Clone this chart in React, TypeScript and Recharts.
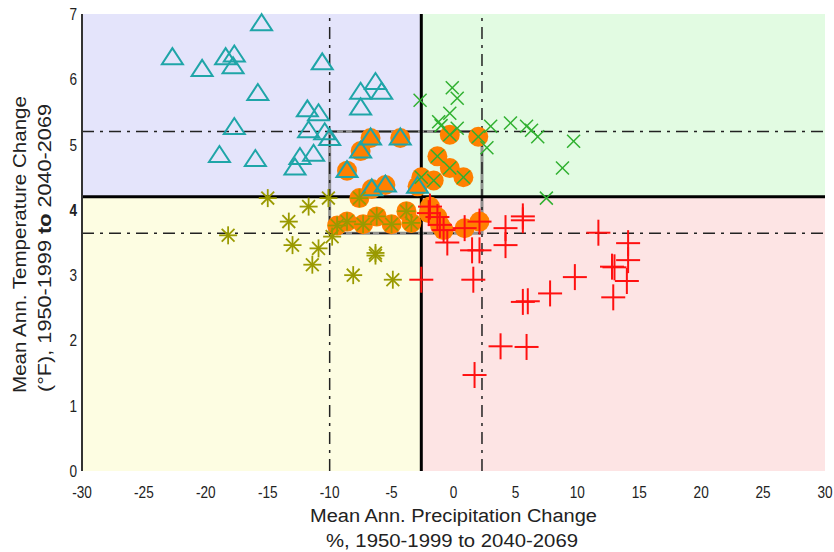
import React from 'react';
import { ScatterChart, Scatter, XAxis, YAxis, ReferenceArea, ReferenceLine } from 'recharts';

// value pairs: [precip % change, temp °F change]
const triangleOnly: [number, number][] = [
  [-15.5, 6.85], [-22.7, 6.33], [-20.3, 6.15], [-18.4, 6.33], [-17.7, 6.37], [-17.8, 6.19],
  [-10.6, 6.25], [-15.8, 5.78], [-11.8, 5.53], [-10.9, 5.47], [-17.7, 5.26], [-11.7, 5.21],
  [-10.4, 5.18], [-10.0, 5.09], [-11.3, 4.85], [-12.4, 4.8], [-18.9, 4.83], [-16.0, 4.77],
  [-12.8, 4.64], [-6.3, 5.95], [-7.5, 5.8], [-5.8, 5.8], [-7.5, 5.56],
];
const triangleSel: [number, number][] = [
  [-6.7, 5.1], [-4.3, 5.1], [-7.5, 4.9], [-8.6, 4.6], [-5.5, 4.38], [-6.6, 4.32], [-2.9, 4.36],
];
const asteriskOnly: [number, number][] = [
  [-15.0, 4.18], [-10.1, 4.18], [-11.7, 4.05], [-13.3, 3.82], [-18.2, 3.61], [-9.8, 3.59],
  [-13.0, 3.46], [-10.9, 3.41], [-11.4, 3.16], [-6.3, 3.34], [-6.3, 3.3], [-8.1, 3.0], [-4.9, 2.93],
];
const asteriskSel: [number, number][] = [
  [-9.4, 3.76], [-8.6, 3.82], [-7.3, 3.78], [-6.2, 3.9], [-5.0, 3.78], [-3.8, 3.98], [-3.4, 3.8], [-7.6, 4.18],
];
const crossOnly: [number, number][] = [
  [-0.1, 5.87], [0.3, 5.71], [-2.7, 5.68], [-0.3, 5.48], [-1.2, 5.35], [-1.0, 5.29], [0.3, 5.25],
  [3.0, 5.28], [4.6, 5.33], [5.9, 5.28], [6.3, 5.22], [6.8, 5.12], [9.7, 5.05], [8.8, 4.64],
  [7.5, 4.18], [2.7, 4.95],
];
const crossSel: [number, number][] = [
  [-0.3, 5.15], [2.0, 5.12], [-1.3, 4.82], [-0.3, 4.64], [0.8, 4.5], [-1.6, 4.45], [-2.6, 4.5],
];
const plusOnly: [number, number][] = [
  [-0.5, 3.5], [1.5, 3.38], [2.1, 3.38], [4.2, 3.72], [4.2, 3.46], [5.6, 3.9], [5.6, 3.84],
  [1.6, 2.93], [-2.6, 2.93], [5.6, 2.59], [6.0, 2.6], [7.8, 2.72], [9.8, 2.97], [11.7, 3.65],
  [12.8, 3.13], [13.0, 3.12], [12.9, 2.66], [14.1, 3.49], [14.1, 3.23], [14.0, 2.91],
  [3.8, 1.91], [5.9, 1.9], [1.7, 1.47],
];
const plusSel: [number, number][] = [
  [-1.9, 4.05], [-1.3, 3.89], [-1.1, 3.77], [-0.8, 3.69], [0.9, 3.72], [2.1, 3.82], [-2.0, 3.95],
];

const xTicks = [-30, -25, -20, -15, -10, -5, 0, 5, 10, 15, 20, 25, 30];
const yTicks = [0, 1, 2, 3, 4, 5, 6, 7];

const medianPrecip = -2.6;
const medianTemp = 4.2;
const lowPrecip = -10;
const highPrecip = 2.3;
const lowTemp = 3.64;
const highTemp = 5.2;

const toObj = (arr: [number, number][]) => arr.map(([x, y]) => ({ x, y }));

const FONT = "'Liberation Sans', Arial, sans-serif";

const Triangle = (p: any) => {
  const { cx, cy } = p;
  const h = 16, w = 21;
  return (
    <polygon
      points={`${cx},${cy - h * 0.6} ${cx - w / 2},${cy + h * 0.4} ${cx + w / 2},${cy + h * 0.4}`}
      fill="none" stroke="#1fa5a8" strokeWidth={2}
    />
  );
};
const Asterisk = (p: any) => {
  const { cx, cy } = p;
  const r = 9, d = 6.4;
  return (
    <g stroke="#9a9a00" strokeWidth={1.8}>
      <line x1={cx - r} y1={cy} x2={cx + r} y2={cy} />
      <line x1={cx} y1={cy - r} x2={cx} y2={cy + r} />
      <line x1={cx - d} y1={cy - d} x2={cx + d} y2={cy + d} />
      <line x1={cx - d} y1={cy + d} x2={cx + d} y2={cy - d} />
    </g>
  );
};
const Cross = (p: any) => {
  const { cx, cy } = p;
  const d = 6.5;
  return (
    <g stroke="#30b030" strokeWidth={1.5}>
      <line x1={cx - d} y1={cy - d} x2={cx + d} y2={cy + d} />
      <line x1={cx - d} y1={cy + d} x2={cx + d} y2={cy - d} />
    </g>
  );
};
const Plus = (p: any) => {
  const { cx, cy } = p;
  return (
    <g stroke="#ff1010" strokeWidth={2}>
      <line x1={cx - 12} y1={cy} x2={cx + 12} y2={cy} />
      <line x1={cx} y1={cy - 13} x2={cx} y2={cy + 13} />
    </g>
  );
};
const Dot = (p: any) => <circle cx={p.cx} cy={p.cy} r={10} fill="#ff8000" />;

const XTick = (p: any) => (
  <g transform={`translate(${p.x},${p.y + 27})`}>
    <text transform="scale(0.85,1)" x={0} y={0} textAnchor="middle" fontFamily={FONT} fontSize={16} fill="#222">
      {p.payload.value}
    </text>
  </g>
);
const YTick = (p: any) => (
  <g transform={`translate(${p.x - 5},${p.y + 6})`}>
    <text transform="scale(0.85,1)" x={0} y={0} textAnchor="end" fontFamily={FONT} fontSize={16}
      fontWeight={p.payload.value === 4 ? 'bold' : 'normal'} fill="#222">
      {p.payload.value}
    </text>
  </g>
);

export default function App() {
  const sel = [...triangleSel, ...asteriskSel, ...crossSel, ...plusSel];
  const dash = '12 6 3 6';
  return (
    <div style={{ position: 'absolute', left: 0, top: 0, width: 834, height: 552, background: '#fff' }}>
      <ScatterChart width={834} height={552} margin={{ top: 14, right: 9, bottom: 0, left: 0 }}>
        <XAxis type="number" dataKey="x" domain={[-30, 30]} ticks={xTicks} interval={0}
          axisLine={false} tickLine={false} tickSize={0} tickMargin={0} height={81} tick={<XTick />} />
        <YAxis type="number" dataKey="y" domain={[0, 7]} ticks={yTicks} interval={0}
          axisLine={{ stroke: '#333', strokeWidth: 2 }} tickLine={false} tickSize={0} tickMargin={0}
          width={82} tick={<YTick />} />
        <ReferenceArea x1={-30} x2={medianPrecip} y1={medianTemp} y2={7} fill="#e4e4fb" fillOpacity={1} stroke="none" />
        <ReferenceArea x1={medianPrecip} x2={30} y1={medianTemp} y2={7} fill="#e2fbe2" fillOpacity={1} stroke="none" />
        <ReferenceArea x1={-30} x2={medianPrecip} y1={0} y2={medianTemp} fill="#fdfde2" fillOpacity={1} stroke="none" />
        <ReferenceArea x1={medianPrecip} x2={30} y1={0} y2={medianTemp} fill="#fde4e4" fillOpacity={1} stroke="none" />
        <Scatter data={toObj(sel)} shape={<Dot />} isAnimationActive={false} />
        <ReferenceArea x1={lowPrecip} x2={highPrecip} y1={lowTemp} y2={highTemp} fill="none" stroke="#808080" strokeWidth={3} strokeOpacity={0.85} />
        <ReferenceLine x={lowPrecip} stroke="#222" strokeWidth={1.5} strokeDasharray={dash} />
        <ReferenceLine x={highPrecip} stroke="#222" strokeWidth={1.5} strokeDasharray={dash} />
        <ReferenceLine y={lowTemp} stroke="#222" strokeWidth={1.5} strokeDasharray={dash} />
        <ReferenceLine y={highTemp} stroke="#222" strokeWidth={1.5} strokeDasharray={dash} />
        <ReferenceLine x={medianPrecip} stroke="#000" strokeWidth={3} />
        <ReferenceLine y={medianTemp} stroke="#000" strokeWidth={3} />
        <Scatter data={toObj([...triangleOnly, ...triangleSel])} shape={<Triangle />} isAnimationActive={false} />
        <Scatter data={toObj([...asteriskOnly, ...asteriskSel])} shape={<Asterisk />} isAnimationActive={false} />
        <Scatter data={toObj([...crossOnly, ...crossSel])} shape={<Cross />} isAnimationActive={false} />
        <Scatter data={toObj([...plusOnly, ...plusSel])} shape={<Plus />} isAnimationActive={false} />
      </ScatterChart>
      <div style={{ position: 'absolute', left: 0, top: 0, width: 834, height: 552, pointerEvents: 'none' }}>
        <svg width={834} height={552} style={{ position: 'absolute', left: 0, top: 0 }}>
          <text x={310} y={522} textLength={287} lengthAdjust="spacingAndGlyphs" fontFamily={FONT} fontSize={18} fill="#222">Mean Ann. Precipitation Change</text>
          <text x={326} y={547} textLength={252} lengthAdjust="spacingAndGlyphs" fontFamily={FONT} fontSize={18} fill="#222">%, 1950-1999 to 2040-2069</text>
          <text transform="translate(26,393) rotate(-90)" textLength={297} lengthAdjust="spacingAndGlyphs" fontFamily={FONT} fontSize={18} fill="#222">Mean Ann. Temperature Change</text>
          <text transform="translate(51,392) rotate(-90)" textLength={288} lengthAdjust="spacingAndGlyphs" fontFamily={FONT} fontSize={18} fill="#222">
            (°F), 1950-1999 <tspan fontWeight="bold">to</tspan> 2040-2069
          </text>
        </svg>
      </div>
    </div>
  );
}
